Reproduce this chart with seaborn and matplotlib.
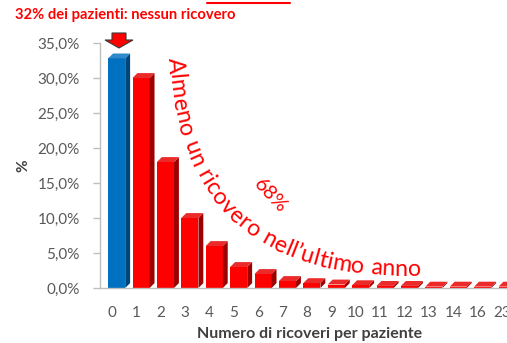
import numpy as np
import pandas as pd
import matplotlib
matplotlib.use("Agg")
import matplotlib.pyplot as plt
import seaborn as sns
from matplotlib.patches import Polygon
from matplotlib.lines import Line2D
from matplotlib import transforms as mtransforms
from matplotlib.font_manager import FontProperties, findfont, get_font
from matplotlib.ticker import FuncFormatter
import matplotlib.colors as mcolors

# ---------------- data ----------------
categories = ["0", "1", "2", "3", "4", "5", "6", "7", "8", "9", "10",
              "11", "12", "13", "14", "16", "23"]
percent_patients = [32.8, 30.0, 18.0, 10.0, 6.0, 3.0, 2.0, 1.0, 0.7, 0.5,
                    0.4, 0.3, 0.3, 0.2, 0.2, 0.2, 0.2]
bar_group = ["nessun ricovero"] + ["almeno un ricovero"] * 16
y_ticks = [0, 5, 10, 15, 20, 25, 30, 35]

top_note = "32% dei pazienti: nessun ricovero"
curve_text = "Almeno un ricovero nell\u2019ultimo anno"
pct_text = "68%"
x_label = "Numero di ricoveri per paziente"
y_label = "%"

RED = "#FF0000"
BLUE = "#0070C0"

sns.set_theme(style="white")
plt.rcParams['font.family'] = ['Lato', 'DejaVu Sans']

W, H = 507, 343
fig = plt.figure(figsize=(W / 100, H / 100), dpi=100)
ax = fig.add_axes([100 / W, 55 / H, 419.3 / W, 245 / H])

df = pd.DataFrame({"ricoveri": categories, "pct": percent_patients, "group": bar_group})
sns.barplot(data=df, x="ricoveri", y="pct", hue="group", order=categories,
            palette={"nessun ricovero": BLUE, "almeno un ricovero": RED},
            width=0.7, dodge=False, legend=False, saturation=1, ax=ax,
            edgecolor="none", linewidth=0)

# pseudo 3D faces derived from the drawn bars
dx, dy = 0.2, 0.7
for p in list(ax.patches):
    h = p.get_height()
    if not np.isfinite(h):
        continue
    x0 = p.get_x()
    w = p.get_width()
    fc = np.array(mcolors.to_rgb(p.get_facecolor()))
    side = fc * 0.62
    top = fc + (1 - fc) * 0.18
    top = top * 0.92 if fc[2] < 0.5 else top
    ax.add_patch(Polygon([(x0 + w, 0), (x0 + w + dx, dy), (x0 + w + dx, h + dy), (x0 + w, h)],
                         closed=True, facecolor=side, edgecolor="none", zorder=p.get_zorder()))
    ax.add_patch(Polygon([(x0, h), (x0 + dx, h + dy), (x0 + w + dx, h + dy), (x0 + w, h)],
                         closed=True, facecolor=top, edgecolor="none", zorder=p.get_zorder()))

ax.set_xlim(-0.684, 16.5)
ax.set_ylim(0, 35)
ax.set_yticks(y_ticks)
ax.yaxis.set_major_formatter(FuncFormatter(lambda v, pos: f"{v:.1f}%".replace(".", ",")))

sns.despine(ax=ax)
for sp in ("left", "bottom"):
    ax.spines[sp].set_color("#BFBFBF")
    ax.spines[sp].set_linewidth(1.0)

ax.tick_params(axis="y", left=True, length=5, width=1, color="#BFBFBF",
               pad=9.6, labelsize=11, labelcolor="#595959")
ax.tick_params(axis="x", bottom=False, length=0, pad=13, labelsize=11,
               labelcolor="#595959")

offset = mtransforms.ScaledTranslation(-0.05, 0, fig.dpi_scale_trans)
for lab in ax.get_xticklabels():
    lab.set_transform(lab.get_transform() + offset)

ax.set_xlabel(x_label, fontsize=11.5, fontweight="bold", color="#404040", labelpad=5)
ax.set_ylabel(y_label, fontsize=11, fontweight="bold", color="#404040", labelpad=5)

# top annotation
fig.text(15 / W, 1 - 15 / H, top_note, color=RED, fontweight="bold", fontsize=10.6,
         ha="left", va="center")

# arrow pointing to bar 0
arrow_px = [(112, 33), (126, 33), (126, 40), (133, 40), (119, 48), (105, 40), (112, 40)]
fig.add_artist(Polygon([(x / W, 1 - y / H) for x, y in arrow_px], closed=True,
                       facecolor=RED, edgecolor="#3a3a3a", linewidth=0.8,
                       transform=fig.transFigure))

# cut title underline
fig.add_artist(Line2D([207 / W, 290 / W], [1 - 3 / H, 1 - 3 / H], color=RED, lw=1.5,
                      transform=fig.transFigure))

# curved text along a quadratic bezier (image pixel coords)
P0 = np.array([176.0, 58.0]); P1 = np.array([185.0, 275.0]); P2 = np.array([420.0, 268.0])
tt = np.linspace(0, 1, 3000)
pts = ((1 - tt) ** 2)[:, None] * P0 + (2 * (1 - tt) * tt)[:, None] * P1 + (tt ** 2)[:, None] * P2
seg = np.hypot(*np.diff(pts, axis=0).T)
s = np.concatenate([[0], np.cumsum(seg)])
L = s[-1]
grad = np.gradient(pts, axis=0)

fp = FontProperties(family="Lato")
font = get_font(findfont(fp))

def advances(fs):
    font.set_size(fs, 100)
    return np.array([font.load_char(ord(c)).linearHoriAdvance / 65536 for c in curve_text])

fs = 12 * L / advances(12).sum()
adv = advances(fs)
centers = np.cumsum(adv) - adv / 2
half = 0.33 * fs * 100 / 72
for c, sc in zip(curve_text, centers):
    x = np.interp(sc, s, pts[:, 0]); y = np.interp(sc, s, pts[:, 1])
    gx = np.interp(sc, s, grad[:, 0]); gy = np.interp(sc, s, grad[:, 1])
    th = np.arctan2(-gy, gx)
    bx = x + np.sin(th) * half
    by = y + np.cos(th) * half
    fig.text(bx / W, 1 - by / H, c, rotation=np.degrees(th), rotation_mode="anchor",
             ha="center", va="baseline", fontsize=fs, color=RED)

fig.text(270 / W, 1 - 196 / H, pct_text, rotation=-47, rotation_mode="anchor",
         ha="center", va="center", fontsize=14.5, color=RED)

fig.savefig("out.png", dpi=100)
